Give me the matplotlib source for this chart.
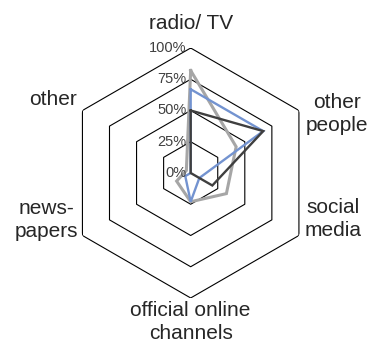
import numpy as np
import matplotlib
matplotlib.use("Agg")
import matplotlib.pyplot as plt

plt.rcParams["font.family"] = ["Liberation Sans", "DejaVu Sans"]

# Категории (по часовой стрелке от верха)
categories = ["radio/ TV", "other\npeople", "social\nmedia",
              "official online\nchannels", "news-\npapers", "other"]
ticks = [0, 25, 50, 75, 100]
tick_labels = ["0%", "25%", "50%", "75%", "100%"]

# Значения серий, %
series_gray = [82, 42, 33, 23, 13, 4]
series_black = [50, 67, 20, 0, 0, 0]
series_blue = [67, 67, 8, 23, 5, 0]

# Положения подписей категорий (угол в градусах, радиус в %)
label_pos = [(0, 120), (68, 126), (108, 120), (180, 119), (252, 121), (298, 125)]

n = len(categories)
angles = np.linspace(0, 2 * np.pi, n, endpoint=False)
closed = np.append(angles, angles[0])

fig = plt.figure(figsize=(3.68, 3.43), dpi=100)
ax = fig.add_axes([0.1785, 0.1312, 0.6793, 0.7289], projection="polar")
ax.set_theta_zero_location("N")
ax.set_theta_direction(-1)
ax.set_ylim(0, 100)
ax.grid(False)
ax.spines["polar"].set_visible(False)
ax.set_xticks([])
ax.set_yticks([])
ax.patch.set_visible(False)

# Шестиугольная сетка
for t in ticks[1:]:
    ax.plot(closed, [t] * (n + 1), color="black", lw=0.8, zorder=1)

for vals, col, lw in [(series_gray, "#a6a6a6", 2.2),
                      (series_blue, "#7393d0", 1.7),
                      (series_black, "#3f3f3f", 1.7)]:
    ax.plot(closed, vals + vals[:1], color=col, lw=lw, zorder=3,
            solid_joinstyle="miter")

for t, lab in zip(ticks, tick_labels):
    ax.annotate(lab, xy=(0, t), xytext=(-3, 0), textcoords="offset points",
                ha="right", va="center", fontsize=10.5, color="#404040",
                zorder=4)

for lab, (a, r) in zip(categories, label_pos):
    ax.text(np.deg2rad(a), r, lab, ha="center", va="center", fontsize=15,
            color="#262626", linespacing=1.25, clip_on=False)

fig.savefig("out.png", dpi=100)
